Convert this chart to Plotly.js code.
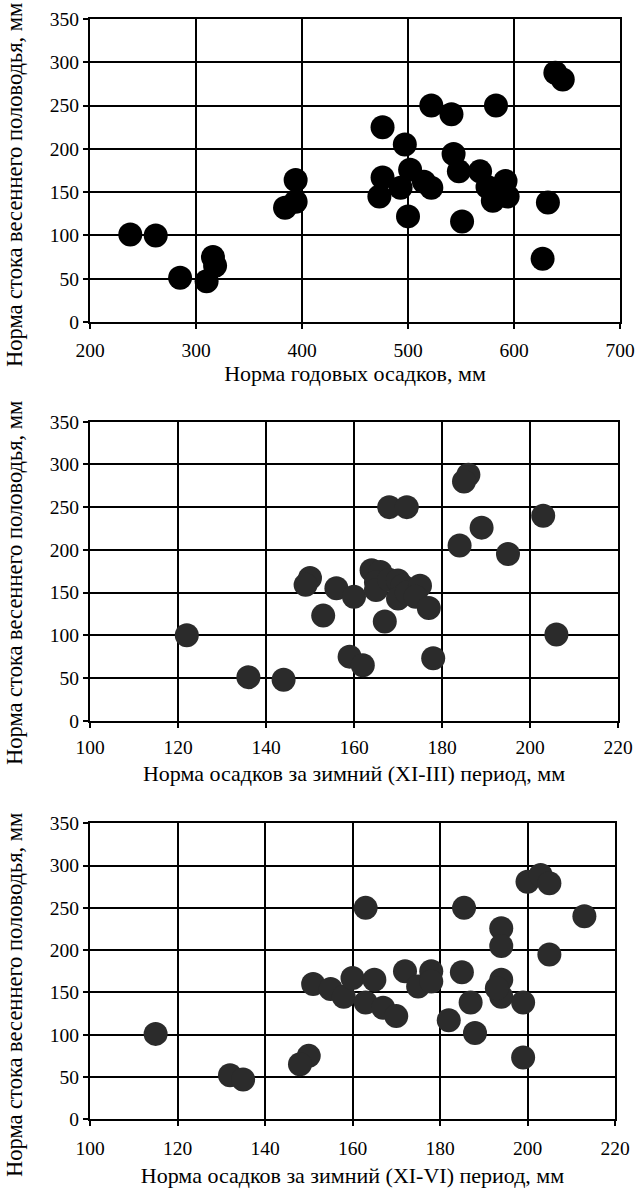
<!DOCTYPE html>
<html>
<head>
<meta charset="utf-8">
<script src="https://cdn.plot.ly/plotly-3.0.1.min.js"></script>
<style>html,body{margin:0;padding:0;background:#fff;}#chart{width:636px;height:1189px;}</style>
</head>
<body>
<div id="chart"></div>
<script>
// Panel 1: annual precipitation norm vs spring flood runoff norm
const annualPrecip = [238, 262, 285, 310, 316, 318, 394, 394, 384, 476, 522, 541, 583, 639, 646, 497, 543, 548, 502, 476, 473, 493, 515, 522, 500, 551, 568, 580, 592, 594, 575, 632, 627];
const runoff1      = [101, 100, 51, 47, 75, 65, 164, 139, 132, 225, 250, 240, 250, 288, 280, 205, 194, 174, 176, 167, 145, 155, 162, 155, 122, 116, 174, 140, 163, 145, 156, 138, 73];

// Panel 2: winter (XI-III) precipitation norm vs runoff norm
const winterPrecipXI_III = [122, 136, 144, 150, 149, 156, 153, 160, 159, 162, 178, 206, 186, 185, 168, 172, 203, 189, 184, 195, 164, 166, 165, 165, 168, 170, 171, 170, 172, 175, 174, 177, 167];
const runoff2            = [100, 51, 48, 167, 159, 155, 123, 145, 75, 65, 73, 101, 288, 280, 250, 250, 240, 226, 205, 195, 176, 174, 162, 153, 165, 164, 158, 143, 150, 158, 145, 132, 116];

// Panel 3: winter (XI-VI) precipitation norm vs runoff norm
const winterPrecipXI_VI = [115, 132, 135, 150, 148, 151, 155, 158, 160, 163, 185.5, 200, 203, 205, 213, 194, 194, 205, 185, 172, 178, 175, 178, 194, 194, 187, 199, 182, 188, 199, 165, 163, 167, 170, 193];
const runoff3           = [101, 52, 47, 75, 65, 160, 154, 145, 167, 250, 250, 281, 289, 279, 240, 226, 205, 195, 174, 175, 175, 157, 163, 165, 145, 138, 138, 117, 102, 73, 165, 138, 132, 122, 155];

const yTickVals = [0, 50, 100, 150, 200, 250, 300, 350];
const x1TickVals = [200, 300, 400, 500, 600, 700];
const x23TickVals = [100, 120, 140, 160, 180, 200, 220];

const yTitle = 'Норма стока весеннего половодья, мм';
const x1Title = 'Норма годовых осадков, мм';
const x2Title = 'Норма осадков за зимний (XI-III) период, мм';
const x3Title = 'Норма осадков за зимний (XI-VI) период, мм';

const FONT = 'Liberation Serif';
const W = 636, H = 1189;

function xd(a, b) { return [a / W, b / W]; }
function yd(top, bottom) { return [(H - bottom) / H, (H - top) / H]; }

function axisBase(extra) {
  return Object.assign({
    showgrid: true, gridcolor: '#000', gridwidth: 2,
    showline: true, linecolor: '#000', linewidth: 2, mirror: true,
    zeroline: false,
    ticks: 'outside', ticklen: 5, tickwidth: 2, tickcolor: '#000',
    tickfont: { family: FONT, size: 19.5, color: '#000' },
    ticklabeloverflow: 'allow',
    fixedrange: true
  }, extra);
}

const traces = [
  { x: annualPrecip, y: runoff1, xaxis: 'x', yaxis: 'y', type: 'scatter', mode: 'markers',
    marker: { size: 24, color: '#000' }, hoverinfo: 'skip' },
  { x: winterPrecipXI_III, y: runoff2, xaxis: 'x2', yaxis: 'y2', type: 'scatter', mode: 'markers',
    marker: { size: 24, color: '#2b2b2b' }, hoverinfo: 'skip' },
  { x: winterPrecipXI_VI, y: runoff3, xaxis: 'x3', yaxis: 'y3', type: 'scatter', mode: 'markers',
    marker: { size: 24, color: '#2b2b2b' }, hoverinfo: 'skip' }
];

const xTitleFont = { family: FONT, size: 22, color: '#000' };
const yTitleFont = { family: FONT, size: 22.5, color: '#000' };

function yTitleAnn(centerPx) {
  return { text: yTitle, xref: 'paper', yref: 'paper', x: 15 / W, y: (H - centerPx) / H,
    xanchor: 'center', yanchor: 'middle', textangle: -90, showarrow: false, font: yTitleFont };
}

const layout = {
  width: W, height: H,
  margin: { l: 0, r: 0, t: 0, b: 0 },
  paper_bgcolor: '#fff', plot_bgcolor: '#fff',
  showlegend: false,
  font: { family: FONT, color: '#000' },
  xaxis: axisBase({ domain: xd(90, 620), range: [200, 700], tickvals: x1TickVals, anchor: 'y', ticklabelstandoff: 5,
    title: { text: x1Title, font: xTitleFont, standoff: 5 } }),
  yaxis: axisBase({ domain: yd(19, 322), range: [0, 350], tickvals: yTickVals, anchor: 'x' }),
  xaxis2: axisBase({ domain: xd(90, 618), range: [100, 220], tickvals: x23TickVals, anchor: 'y2', ticklabelstandoff: 3,
    title: { text: x2Title, font: xTitleFont, standoff: 9 } }),
  yaxis2: axisBase({ domain: yd(421.7, 720.7), range: [0, 350], tickvals: yTickVals, anchor: 'x2' }),
  xaxis3: axisBase({ domain: xd(90, 615), range: [100, 220], tickvals: x23TickVals, anchor: 'y3', ticklabelstandoff: 5,
    title: { text: x3Title, font: xTitleFont, standoff: 10 } }),
  yaxis3: axisBase({ domain: yd(823.3, 1119.3), range: [0, 350], tickvals: yTickVals, anchor: 'x3' }),
  annotations: [yTitleAnn(185), yTitleAnn(583), yTitleAnn(995)]
};

Plotly.newPlot('chart', traces, layout, { displayModeBar: false, staticPlot: true });
</script>
</body>
</html>
